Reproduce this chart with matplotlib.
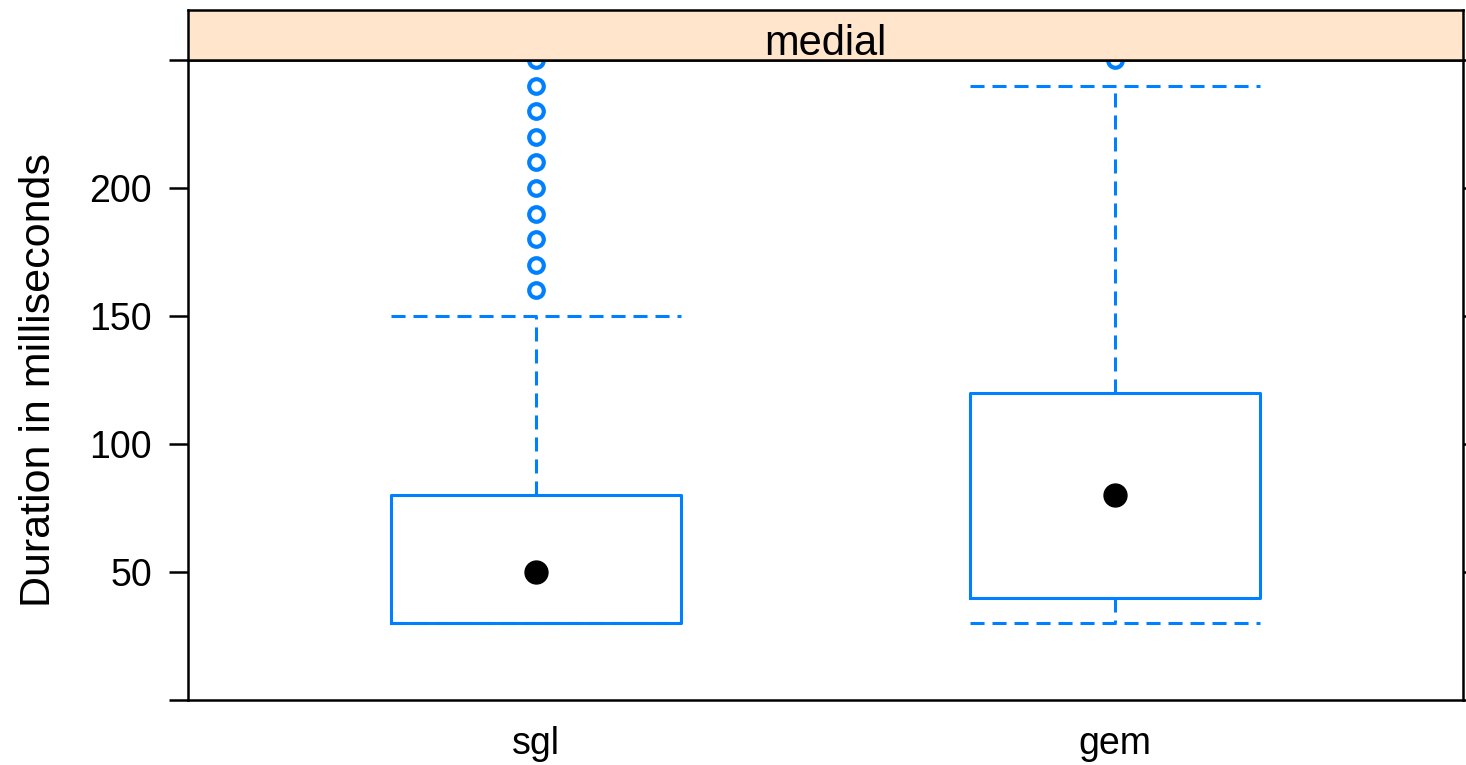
import matplotlib.pyplot as plt

# data (lattice bwplot style)
groups = ['sgl', 'gem']
q1 = [30, 40]
medians = [50, 80]
q3 = [80, 120]
whisker_low = [30, 30]
whisker_high = [150, 240]
outliers = [
    [160, 170, 180, 190, 200, 210, 220, 230, 240, 250],
    [250],
]
y_ticks = [0, 50, 100, 150, 200, 250]
y_tick_labels = ['', '50', '100', '150', '200', '']
panel_title = 'medial'
y_label = 'Duration in milliseconds'

blue = '#0080FF'
plt.rcParams['font.family'] = ['Liberation Sans', 'DejaVu Sans']

fig = plt.figure(figsize=(14.66, 7.65), dpi=100)
ax = fig.add_axes([188 / 1466, 65 / 765, 1275 / 1466, 640 / 765])
strip = fig.add_axes([188 / 1466, 705 / 765, 1275 / 1466, 50 / 765])

stats = []
for i, g in enumerate(groups):
    stats.append(dict(label=g, med=medians[i], q1=q1[i], q3=q3[i],
                      whislo=whisker_low[i], whishi=whisker_high[i],
                      fliers=outliers[i]))

dash = (0, (4.6, 2.6))
positions = list(range(1, len(groups) + 1))
ax.bxp(stats, positions=positions, widths=0.5, capwidths=0.5,
       boxprops=dict(color=blue, linewidth=2.2),
       whiskerprops=dict(color=blue, linewidth=2.2, linestyle=dash),
       capprops=dict(color=blue, linewidth=2.2, linestyle=dash),
       medianprops=dict(linewidth=0),
       flierprops=dict(marker='o', markersize=10.5, markerfacecolor='none',
                       markeredgecolor=blue, markeredgewidth=3))
ax.plot(positions, medians, 'o', color='black', markersize=16.5, zorder=5)

ax.set_xlim(0.4, len(groups) + 0.6)
ax.set_ylim(0, 250)
ax.set_yticks(y_ticks)
ax.set_yticklabels(y_tick_labels)
ax.set_xticks(positions)
ax.set_xticklabels(groups)
ax.tick_params(axis='y', direction='out', length=14, width=1.8,
               labelsize=27, pad=12, right=True)
ax.tick_params(axis='x', length=0, labelsize=27, pad=19)
ax.set_ylabel(y_label, fontsize=31, labelpad=22)
for s in ax.spines.values():
    s.set_linewidth(1.8)

strip.set_facecolor('#FFE5CC')
strip.set_xticks([])
strip.set_yticks([])
for s in strip.spines.values():
    s.set_linewidth(1.8)
strip.text(0.5, 0.1, panel_title, ha='center', va='baseline', fontsize=30,
           transform=strip.transAxes)

fig.savefig('out.png', dpi=100)
